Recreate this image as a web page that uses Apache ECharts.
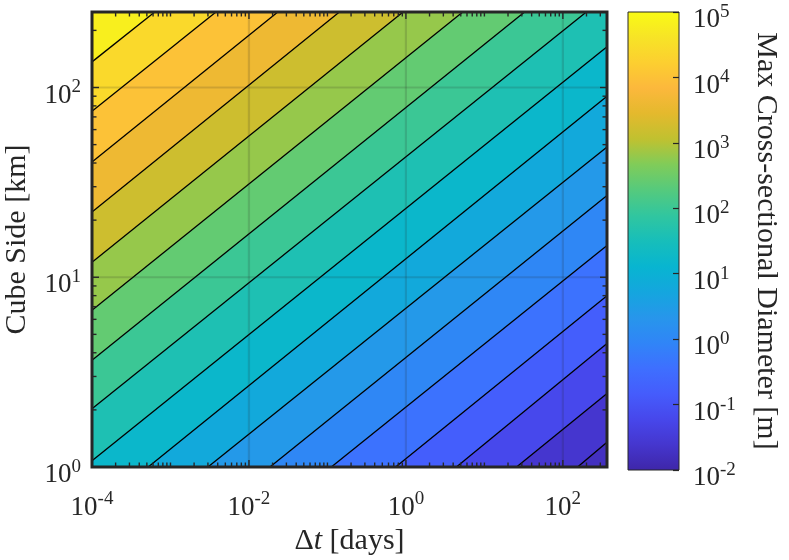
<!DOCTYPE html>
<html>
<head>
<meta charset="UTF-8">
<title>Max Cross-sectional Diameter</title>
<style>
    body { margin: 0; background-color: #ffffff; }
    #main { width: 789px; height: 560px; }
</style>
<script src="https://cdn.jsdelivr.net/npm/echarts@6.0.0/dist/echarts.min.js"></script>
</head>
<body>
<div id="main"></div>
<script type="text/javascript">
    // axis ranges
    var dtRange = [1e-4, 365];     // days
    var sideRange = [1, 250];      // km
    var colorRange = [-2, 5];      // log10 of diameter [m]

    // contour levels (log10 m), top-left line first
    var levels = [4.8, 4.4, 4.0, 3.6, 3.2, 2.8, 2.4, 2.0, 1.6, 1.2, 0.8, 0.4, 0.0, -0.4, -0.8, -1.2, -1.6];
    // where each contour line enters / leaves the frame, [dt, side]
    var lineStart = [[1e-4, 136.5], [1e-4, 75], [1e-4, 40.5], [1e-4, 22.1], [1e-4, 12.0], [1e-4, 6.7],
        [1e-4, 3.65], [1e-4, 2.03], [1e-4, 1.08], [5.2e-4, 1], [3.0e-3, 1], [0.0185, 1], [0.112, 1],
        [0.74, 1], [4.4, 1], [25.7, 1], [154, 1]];
    var lineEnd = [[6.3e-4, 250], [3.8e-3, 250], [0.0233, 250], [0.142, 250], [0.92, 250], [5.3, 250],
        [32.5, 250], [199, 250], [365, 164], [365, 90], [365, 48.6], [365, 27], [365, 14.7],
        [365, 8.0], [365, 4.47], [365, 2.44], [365, 1.35]];
    // value in the bottom-right corner (below the lowest level)
    var cornerValue = -1.75;

    var xMajorTicks = [1e-4, 1e-2, 1, 1e2];
    var yMajorTicks = [1, 10, 100];

    var parula = ['#3e26a8', '#4536ce', '#4747eb', '#455cfc', '#3e6fff', '#3085f7', '#2796eb',
        '#14a6de', '#08b5d0', '#17beba', '#31c69f', '#55ca7d', '#80cc59', '#c0c130', '#e4b92d',
        '#fcb83c', '#fccf30', '#f7e426', '#f9fb15'];

    var ink = '#262626';
    var serif = 'Liberation Serif';

    var myChart = echarts.init(document.getElementById('main'));

    function isMajor(v, majors) {
        for (var i = 0; i < majors.length; i++) {
            if (Math.abs(v / majors[i] - 1) < 1e-6) return true;
        }
        return false;
    }

    function minorTicks(range, majors) {
        var out = [];
        var e0 = Math.floor(Math.log10(range[0])), e1 = Math.ceil(Math.log10(range[1]));
        for (var e = e0; e <= e1; e++) {
            for (var m = 1; m <= 9; m++) {
                var v = m * Math.pow(10, e);
                if (v > range[0] * 1.0001 && v < range[1] * 0.9999 && !isMajor(v, majors)) out.push(v);
            }
        }
        return out;
    }

    // ticks: [x, y, isYAxis, isMajor]
    var tickData = [];
    xMajorTicks.forEach(function (v) { tickData.push([v, sideRange[0], 0, 1]); });
    minorTicks(dtRange, xMajorTicks).forEach(function (v) { tickData.push([v, sideRange[0], 0, 0]); });
    yMajorTicks.forEach(function (v) { tickData.push([dtRange[0], v, 1, 1]); });
    minorTicks(sideRange, yMajorTicks).forEach(function (v) { tickData.push([dtRange[0], v, 1, 0]); });

    // bands: [startDt, startSide, endDt, endSide, level]; first one is the whole frame
    var bandData = [[dtRange[1], sideRange[0], dtRange[1], sideRange[0], cornerValue]];
    var lineData = [];
    for (var i = levels.length - 1; i >= 0; i--) {
        bandData.push([lineStart[i][0], lineStart[i][1], lineEnd[i][0], lineEnd[i][1], levels[i]]);
        lineData.push([lineStart[i][0], lineStart[i][1], lineEnd[i][0], lineEnd[i][1]]);
    }

    function powLabel(v) {
        var e = Math.round(Math.log10(v));
        if (Math.abs(Math.log10(v) - e) > 1e-6) return '';
        return '{b|10}{s|' + e + '}';
    }

    // base digits pushed down by padding so the exponent sits higher
    var tickRich = {
        b: { fontFamily: serif, fontSize: 27, color: ink, padding: [16, 0, 0, 0] },
        s: { fontFamily: serif, fontSize: 19, color: ink }
    };

    function renderBand(params, api) {
        var s = [api.value(0), api.value(1)], e = [api.value(2), api.value(3)];
        var pts = [api.coord(s), api.coord(e)];
        if (e[0] >= dtRange[1]) pts.push(api.coord([dtRange[1], sideRange[1]]));
        pts.push(api.coord([dtRange[0], sideRange[1]]));
        if (s[1] <= sideRange[0]) pts.push(api.coord([dtRange[0], sideRange[0]]));
        var c = api.visual('color');
        return { type: 'polygon', shape: { points: pts }, style: { fill: c } };
    }

    function renderLine(params, api) {
        var p1 = api.coord([api.value(0), api.value(1)]);
        var p2 = api.coord([api.value(2), api.value(3)]);
        return {
            type: 'line',
            shape: { x1: p1[0], y1: p1[1], x2: p2[0], y2: p2[1] },
            style: { stroke: '#000000', lineWidth: 1.3 }
        };
    }

    function renderTick(params, api) {
        var cs = params.coordSys;
        var p = api.coord([api.value(0), api.value(1)]);
        var onY = api.value(2) === 1, major = api.value(3) === 1;
        var len = major ? 7 : 4.5;
        var kids = [];
        function seg(x1, y1, x2, y2, stroke, w) {
            kids.push({ type: 'line', shape: { x1: x1, y1: y1, x2: x2, y2: y2 },
                style: { stroke: stroke, lineWidth: w } });
        }
        var bottom = cs.y + cs.height, right = cs.x + cs.width;
        if (!onY) {
            if (major) seg(p[0], cs.y, p[0], bottom, 'rgba(38,38,38,0.16)', 2.2);
            seg(p[0], bottom, p[0], bottom - len, ink, 1.4);
            seg(p[0], cs.y, p[0], cs.y + len, ink, 1.4);
        } else {
            if (major) seg(cs.x, p[1], right, p[1], 'rgba(38,38,38,0.16)', 2.2);
            seg(cs.x, p[1], cs.x + len, p[1], ink, 1.4);
            seg(right, p[1], right - len, p[1], ink, 1.4);
        }
        return { type: 'group', children: kids };
    }

    function renderFrame(params, api) {
        var p1 = api.coord([api.value(0), api.value(3)]);
        var p2 = api.coord([api.value(2), api.value(1)]);
        return {
            type: 'rect',
            shape: { x: p1[0], y: p1[1], width: p2[0] - p1[0], height: p2[1] - p1[1] },
            style: { fill: 'none', stroke: ink, lineWidth: 3 }
        };
    }

    function renderColorbar(params, api) {
        var p1 = api.coord([api.value(0), api.value(3)]);
        var p2 = api.coord([api.value(2), api.value(1)]);
        var stops = parula.map(function (c, i) { return { offset: i / (parula.length - 1), color: c }; });
        return {
            type: 'rect',
            shape: { x: p1[0], y: p1[1], width: p2[0] - p1[0], height: p2[1] - p1[1] },
            style: { fill: new echarts.graphic.LinearGradient(0, 1, 0, 0, stops), stroke: ink, lineWidth: 1 }
        };
    }

    var option = {
        backgroundColor: '#ffffff',
        animation: false,
        grid: [
            { left: 92, top: 12, width: 515, height: 455, outerBoundsMode: 'none' },
            { left: 628, top: 12, width: 51, height: 458, outerBoundsMode: 'none' }
        ],
        xAxis: [
            {
                gridIndex: 0, type: 'log', logBase: 10, min: dtRange[0], max: dtRange[1],
                axisLine: { show: false, onZero: false }, axisTick: { show: false }, splitLine: { show: false },
                axisLabel: {
                    margin: 11,
                    formatter: function (v) {
                        var e = Math.round(Math.log10(v));
                        return e % 2 === 0 ? powLabel(v) : '';
                    },
                    rich: tickRich
                },
                name: '{n|\u0394}{i|t}{n| [days]}',
                nameLocation: 'middle', nameGap: 58,
                nameTextStyle: {
                    rich: {
                        n: { fontFamily: serif, fontSize: 30, color: ink },
                        i: { fontFamily: serif, fontSize: 30, fontStyle: 'italic', color: ink }
                    }
                }
            },
            { gridIndex: 1, type: 'value', min: 0, max: 1, show: false }
        ],
        yAxis: [
            {
                gridIndex: 0, type: 'log', logBase: 10, min: sideRange[0], max: sideRange[1],
                axisLine: { show: false, onZero: false }, axisTick: { show: false }, splitLine: { show: false },
                axisLabel: { margin: 11, formatter: powLabel, rich: tickRich },
                name: 'Cube Side [km]', nameLocation: 'middle', nameRotate: 90, nameGap: 60,
                nameTextStyle: { fontFamily: serif, fontSize: 30, color: ink }
            },
            {
                gridIndex: 1, type: 'value', min: colorRange[0], max: colorRange[1], interval: 1,
                position: 'right', z: 10,
                axisLine: { show: false, onZero: false }, splitLine: { show: false },
                axisTick: { show: true, inside: true, length: 6, lineStyle: { color: ink, width: 1.2 } },
                axisLabel: {
                    margin: 14,
                    formatter: function (v) { return '{b|10}{s|' + v + '}'; },
                    rich: tickRich
                },
                name: 'Max Cross-sectional Diameter [m]', nameLocation: 'middle', nameRotate: -90, nameGap: 72,
                nameTextStyle: { fontFamily: serif, fontSize: 30, color: ink }
            }
        ],
        visualMap: [{
            type: 'continuous', show: false, seriesIndex: 0, dimension: 4,
            min: colorRange[0], max: colorRange[1],
            inRange: { color: parula }
        }],
        series: [
            {
                name: 'bands', type: 'custom', xAxisIndex: 0, yAxisIndex: 0, z: 1,
                encode: { x: [0, 2], y: [1, 3] },
                renderItem: renderBand, data: bandData
            },
            {
                name: 'contours', type: 'custom', xAxisIndex: 0, yAxisIndex: 0, z: 2,
                encode: { x: [0, 2], y: [1, 3] },
                renderItem: renderLine, data: lineData
            },
            {
                name: 'ticks', type: 'custom', xAxisIndex: 0, yAxisIndex: 0, z: 3,
                encode: { x: 0, y: 1 },
                renderItem: renderTick, data: tickData
            },
            {
                name: 'frame', type: 'custom', xAxisIndex: 0, yAxisIndex: 0, z: 4,
                encode: { x: [0, 2], y: [1, 3] },
                renderItem: renderFrame,
                data: [[dtRange[0], sideRange[0], dtRange[1], sideRange[1]]]
            },
            {
                name: 'colorbar', type: 'custom', xAxisIndex: 1, yAxisIndex: 1, z: 2,
                encode: { x: [0, 2], y: [1, 3] },
                renderItem: renderColorbar,
                data: [[0, colorRange[0], 1, colorRange[1]]]
            }
        ]
    };
    myChart.setOption(option);
</script>
</body>
</html>
